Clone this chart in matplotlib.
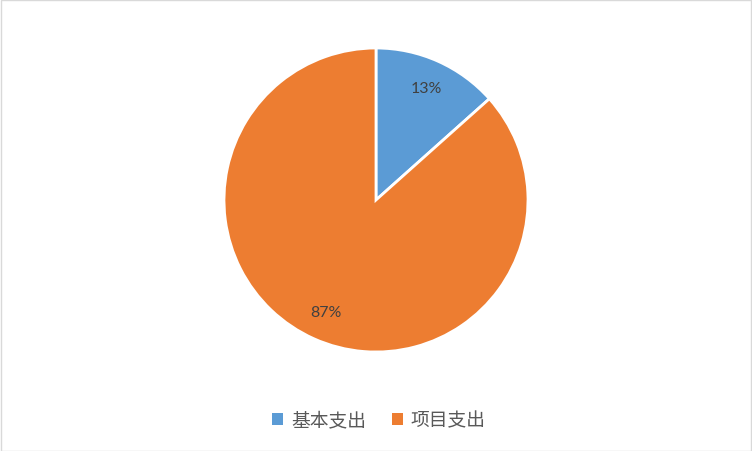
import matplotlib.pyplot as plt
from matplotlib.patches import Rectangle

plt.rcParams['font.family'] = ['Noto Sans CJK SC', 'DejaVu Sans']

categories = ["基本支出", "项目支出"]
shares = [13.4, 86.6]
colors = ["#5B9BD5", "#ED7D31"]

W, H = 752, 452
fig = plt.figure(figsize=(W / 100, H / 100), dpi=100)

# pie centred at (376, 201) px, radius 152 px
cx, cy, r = 376, 201, 152
ax = fig.add_axes([(cx - r) / W, (H - cy - r) / H, 2 * r / W, 2 * r / H])

wedges, texts, autotexts = ax.pie(
    shares, colors=colors, startangle=90, counterclock=False,
    autopct='%.0f%%', pctdistance=0.81, radius=1.0,
    wedgeprops=dict(edgecolor='white', linewidth=2),
    textprops=dict(color='#404040', fontsize=11.5, family='Lato'),
)
ax.set_xlim(-1, 1)
ax.set_ylim(-1, 1)
ax.set_aspect('equal')
ax.axis('off')

leg = fig.legend(wedges, categories, loc='center', bbox_to_anchor=(379 / W, 1 - 421 / H),
                 ncol=2, frameon=False, fontsize=13.5, handlelength=0.6, handleheight=0.6,
                 handletextpad=0.4, columnspacing=1.4, labelcolor='#595959')
for h in leg.legend_handles:
    h.set_edgecolor('none')

# thin grey border round the chart area
fig.patches.append(Rectangle((0.5 / W, 0.5 / H), 1 - 1.5 / W, 1 - 1.5 / H,
                             transform=fig.transFigure, fill=False,
                             edgecolor='#D9D9D9', linewidth=1))

fig.savefig("out.png", dpi=100)
